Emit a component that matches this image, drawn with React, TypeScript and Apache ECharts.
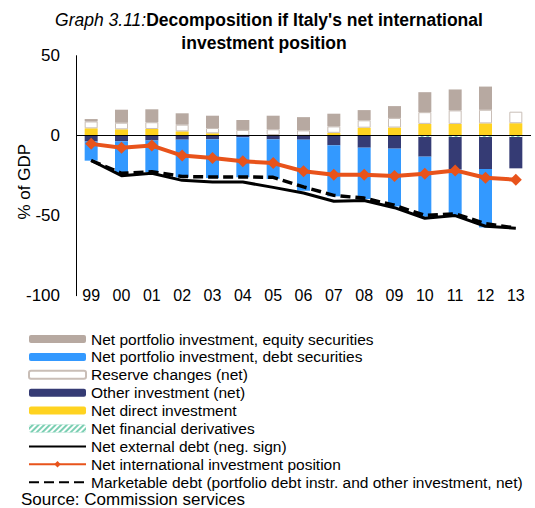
import React, { useEffect, useRef } from "react";
import * as echarts from "echarts";

const categories = ["99", "00", "01", "02", "03", "04", "05", "06", "07", "08", "09", "10", "11", "12", "13"];
const equity = [1.5, 8.15, 8.1, 7.1, 7.7, 6.2, 8.5, 8.3, 7.95, 6.4, 7.4, 12.5, 13.1, 14.5, 0];
const debtSecurities = [-12.0, -20.0, -19.7, -23.5, -24.2, -25.0, -24.7, -31.9, -31.9, -32.1, -36.1, -37.5, -29.2, -36.5, 0];
const reserves = [4.3, 4.1, 4.2, 4.2, 3.3, 3.6, 3.6, 3.3, 4.0, 4.6, 6.0, 7.3, 8.4, 8.5, 7.2];
const otherInvestment = [-3.6, -3.5, -3.0, -2.5, -2.3, -1.0, -2.3, -2.5, -6.0, -7.5, -8.1, -12.3, -20.2, -20.0, -19.6];
const directInvestment = [4.6, 4.0, 4.2, 2.7, 1.5, 0, 0.4, 0, 1.8, 5.0, 5.1, 7.4, 7.4, 7.7, 7.8];
const derivatives = [0, 0, 0, 0, 0, 0, 0, 0, 0, 0, 0, -0.8, -0.8, -0.8, -0.8];
const netExternalDebt = [-15.5, -25.0, -23.5, -27.9, -29.0, -29.0, -32.3, -35.8, -41.0, -40.5, -45.0, -51.6, -49.9, -56.6, -57.8];
const niip = [-5.1, -7.5, -6.2, -12.4, -14.0, -16.0, -17.1, -22.2, -24.4, -24.4, -25.2, -23.8, -21.7, -26.3, -27.5];
const marketableDebt = [-15.5, -23.5, -22.5, -25.5, -25.8, -25.8, -26.0, -32.0, -37.3, -39.0, -43.5, -49.8, -48.8, -55.0, -57.7];
const yTicks = [-100, -50, 0, 50];

const NAMES = {
  equity: "Net portfolio investment, equity securities",
  debt: "Net portfolio investment, debt securities",
  reserve: "Reserve changes (net)",
  other: "Other investment (net)",
  direct: "Net direct investment",
  deriv: "Net financial derivatives",
  ned: "Net external debt (neg. sign)",
  niip: "Net international investment position",
  mkt: "Marketable debt (portfolio debt instr. and other investment, net)",
};

const FONT = "'Liberation Sans', Arial, sans-serif";

export default function App() {
  const ref = useRef<HTMLDivElement>(null);
  useEffect(() => {
    if (!ref.current) return;
    const chart = echarts.init(ref.current, undefined, { renderer: "svg" });
    const barBase = { type: "bar", stack: "total", barWidth: 13 };
    const option: any = {
      animation: false,
      textStyle: { fontFamily: FONT },
      graphic: [
        {
          type: "text",
          x: 269,
          y: 20,
          style: {
            text: "{i|Graph 3.11:}{b|Decomposition if Italy's net international}",
            align: "center",
            verticalAlign: "middle",
            rich: {
              i: { fontStyle: "italic", fontSize: 17.5, fontFamily: FONT, fill: "#000" },
              b: { fontWeight: "bold", fontSize: 17.5, fontFamily: FONT, fill: "#000" },
            },
          },
        },
        {
          type: "text",
          x: 264,
          y: 43,
          style: {
            text: "investment position",
            align: "center",
            verticalAlign: "middle",
            fontWeight: "bold",
            fontSize: 17.5,
            fontFamily: FONT,
            fill: "#000",
          },
        },
        {
          type: "text",
          x: 21,
          y: 499.5,
          style: {
            text: "Source: Commission services",
            align: "left",
            verticalAlign: "middle",
            fontSize: 17,
            fontFamily: FONT,
            fill: "#000",
          },
        },
      ],
      legend: {
        orient: "vertical",
        left: 23,
        top: 326,
        itemWidth: 57,
        itemHeight: 8,
        itemGap: 1.9,
        textStyle: { fontSize: 15.5, lineHeight: 16, fontFamily: FONT, color: "#000" },
        data: [
          NAMES.equity,
          NAMES.debt,
          NAMES.reserve,
          NAMES.other,
          NAMES.direct,
          NAMES.deriv,
          { name: NAMES.ned, itemStyle: { opacity: 0 } },
          NAMES.niip,
          { name: NAMES.mkt, itemStyle: { opacity: 0 } },
        ],
      },
      grid: { left: 76, right: 4, top: 55.7, bottom: 212.3, containLabel: false, outerBoundsMode: "none" },
      xAxis: {
        type: "category",
        data: categories,
        axisLine: { show: false },
        axisTick: { show: false },
        axisLabel: { fontSize: 16, color: "#000", fontFamily: FONT, margin: -8 },
      },
      yAxis: {
        type: "value",
        min: yTicks[0],
        max: yTicks[yTicks.length - 1],
        interval: 50,
        name: "% of GDP",
        nameLocation: "middle",
        nameGap: 43,
        nameRotate: 90,
        nameMoveOverlap: false,
        nameTextStyle: { fontSize: 17, color: "#000", fontFamily: FONT, padding: [0, 12, 0, 0] },
        axisLine: { show: true, lineStyle: { color: "#000", width: 1 } },
        axisTick: { show: false },
        splitLine: { show: false },
        axisLabel: { fontSize: 17, color: "#000", fontFamily: FONT, margin: 16 },
      },
      series: [
        {
          ...barBase,
          name: NAMES.direct,
          data: directInvestment,
          itemStyle: { color: "#FFD320" },
          markLine: {
            silent: true,
            symbol: "none",
            label: { show: false },
            lineStyle: { color: "#000", width: 1, type: "solid" },
            data: [{ yAxis: 0 }],
            z: 10,
          },
        },
        {
          ...barBase,
          name: NAMES.deriv,
          data: derivatives,
          itemStyle: {
            color: "#7ccfb3",
            decal: {
              symbol: "rect",
              symbolSize: 1,
              color: "#ffffff",
              dashArrayX: [1, 0],
              dashArrayY: [2, 2],
              rotation: -Math.PI / 4,
            },
          },
        },
        {
          ...barBase,
          name: NAMES.other,
          data: otherInvestment,
          itemStyle: { color: "#353B74" },
        },
        {
          ...barBase,
          name: NAMES.reserve,
          data: reserves,
          itemStyle: { color: "#ffffff", borderColor: "#c9beb7", borderWidth: 1 },
        },
        {
          ...barBase,
          name: NAMES.debt,
          data: debtSecurities,
          itemStyle: { color: "#3399FF" },
        },
        {
          ...barBase,
          name: NAMES.equity,
          data: equity,
          itemStyle: { color: "#B7A9A1" },
        },
        {
          type: "line",
          name: NAMES.ned,
          data: netExternalDebt,
          symbol: "none",
          lineStyle: { color: "#000", width: 3 },
          itemStyle: { color: "#000" },
          z: 5,
        },
        {
          type: "line",
          name: NAMES.mkt,
          data: marketableDebt,
          symbol: "none",
          lineStyle: { color: "#000", width: 3.5, type: [10, 5] },
          itemStyle: { color: "#000" },
          z: 6,
        },
        {
          type: "line",
          name: NAMES.niip,
          data: niip,
          symbol: "diamond",
          symbolSize: 12,
          lineStyle: { color: "#E8531B", width: 4 },
          itemStyle: { color: "#E8531B" },
          z: 7,
        },
      ],
    };
    chart.setOption(option);
    return () => chart.dispose();
  }, []);
  return <div ref={ref} style={{ position: "absolute", left: 0, top: 0, width: 535, height: 508 }} />;
}
